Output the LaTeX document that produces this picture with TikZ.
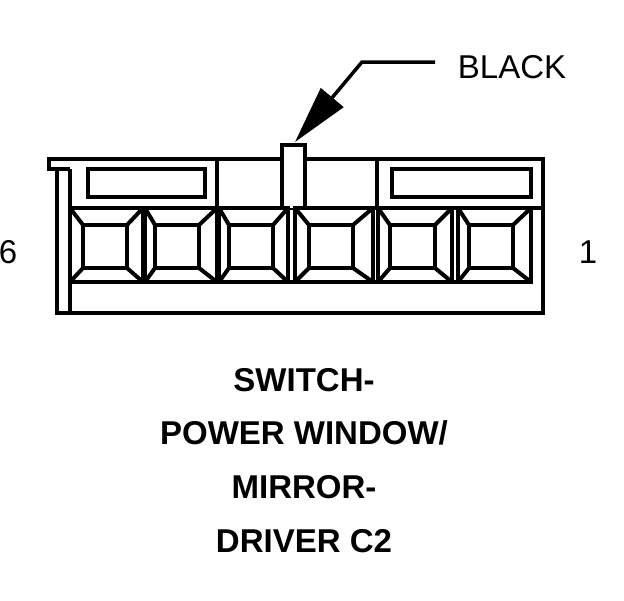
\documentclass[tikz,border=0pt]{standalone}
\usepackage{fontspec}
\setmainfont{Liberation Sans}
\usetikzlibrary{arrows.meta}

\tikzset{
  part/.style={line width=4pt},
  pointer/.style={line width=3.5pt,-{Triangle[length=58pt,width=29pt]}},
  callout/.style={font=\fontsize{33}{33}\selectfont,inner sep=0pt},
  caption/.style={font=\fontsize{33}{33}\selectfont\bfseries,inner sep=0pt}
}

\begin{document}
\begin{tikzpicture}[x=1pt,y=-1pt]
        \useasboundingbox (0,0) rectangle (624,600);

        % housing
        \draw[part] (70,169) -- (49,169) -- (49,159) -- (543,159) -- (543,313) -- (57,313) -- (57,169);
        \draw[part] (70,169) -- (70,313);
        \draw[part] (70,208) -- (543,208);
        \draw[part] (70,282) -- (531,282);
        \draw[part] (217,159) -- (217,208);
        \draw[part] (377,159) -- (377,208);
        \draw[part] (88,169) rectangle (205,197);
        \draw[part] (392,169) rectangle (531,197);
        \draw[part,fill=white] (282,208) -- (282,145) -- (305,145) -- (305,208);

        % terminals
        \foreach \cl/\cr/\sl/\sr in {70/143/83/127,145/217/155/199,219/288/229/273,295/373/309/353,378/452/390/435,458/531/469/513} {
          \draw[part] (\cl,208) rectangle (\cr,282);
          \draw[part] (\sl,225) rectangle (\sr,268);
          \draw[part] (\cl,208) -- (\sl,225);
          \draw[part] (\cr,208) -- (\sr,225);
          \draw[part] (\cl,282) -- (\sl,268);
          \draw[part] (\cr,282) -- (\sr,268);
        }

        % leader
        \coordinate (leadstart) at (435,62);
        \coordinate (leadbend) at (362,62);
        \coordinate (leadtip) at (295,142);
        \draw[pointer] (leadstart) -- (leadbend) -- (leadtip);

        \begin{scope}[every node/.style={callout}]
          \node (black) at (512,67) {BLACK};
          \node (pinsix) at (8,252) {6};
          \node (pinone) at (588,252) {1};
        \end{scope}

        \begin{scope}[every node/.style={caption}]
          \node (line1) at (304,380) {SWITCH-};
          \node (line2) at (304,433) {POWER WINDOW/};
          \node (line3) at (304,487) {MIRROR-};
          \node (line4) at (304,541) {DRIVER C2};
        \end{scope}

      \end{tikzpicture}
\end{document}
